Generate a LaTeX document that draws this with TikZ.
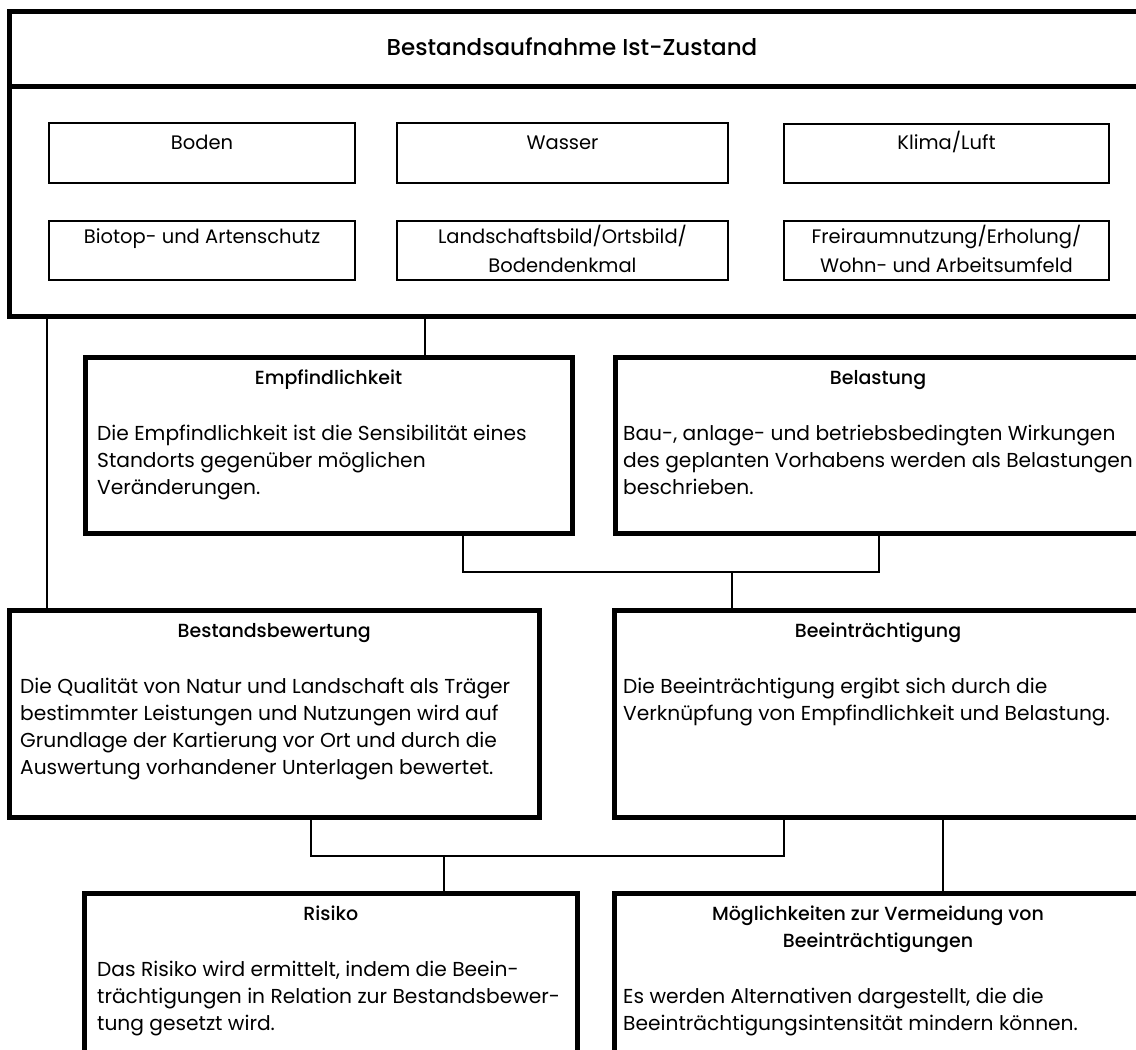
\documentclass[tikz,border=0pt]{standalone}
\usepackage{fontspec}
\setmainfont{Poppins}
\newfontfamily\headfont{Poppins Medium}
\newcommand{\bodytext}[1]{\parbox[t]{520pt}{\raggedright #1}}
\newcommand{\ctext}[1]{\parbox[t]{400pt}{\centering #1}}
\begin{document}
\begin{tikzpicture}[x=1pt,y=-1pt,
  every node/.style={font=\fontsize{20.2}{27}\selectfont},
  bigbox/.style={draw, line width=5pt, inner sep=0pt},
  smallbox/.style={draw, line width=1.8pt, inner sep=0pt},
  conn/.style={line width=2pt},
  bigline/.style={line width=5pt},
  lbl/.style={anchor=base, inner sep=0pt, font=\fontsize{19.5}{29}\selectfont},
  head/.style={anchor=base, inner sep=0pt, font=\fontsize{19}{27}\selectfont\headfont},
  body/.style={anchor=base west, inner sep=0pt}]
\useasboundingbox (0,0) rectangle (1136,1050);
\clip (0,0) rectangle (1136,1050);

% top box
\node[bigbox, minimum width=1131.5pt, minimum height=304.5pt] (top) at (575.25,163.75) {};
\coordinate (divL) at (9.5,86.5);
\draw[bigline] (divL) -- (divL -| top.east);
\node[head, font=\fontsize{23}{28}\selectfont\headfont] (title) at (572,55) {Bestandsaufnahme Ist-Zustand};

% small boxes
\node[smallbox, minimum width=306pt, minimum height=60pt] (boden) at (202,153) {};
\node[smallbox, minimum width=331pt, minimum height=60pt] (wasser) at (562.5,153) {};
\node[smallbox, minimum width=325pt, minimum height=59pt] (klima) at (946.5,153.5) {};
\node[smallbox, minimum width=306pt, minimum height=59pt] (biotop) at (202,250.5) {};
\node[smallbox, minimum width=331pt, minimum height=59pt] (land) at (562.5,250.5) {};
\node[smallbox, minimum width=325pt, minimum height=59pt] (frei) at (946.5,250.5) {};

\node[lbl] (bodenL) at (202,149) {Boden};
\node[lbl] (wasserL) at (562.5,149) {Wasser};
\node[lbl] (klimaL) at (946.5,149) {Klima/Luft};
\node[lbl] (biotopL) at (202,243) {Biotop- und Artenschutz};
\node[lbl] (landL) at (562.5,243) {\ctext{Landschaftsbild/Ortsbild/\\Bodendenkmal}};
\node[lbl] (freiL) at (946.5,243) {\ctext{Freiraumnutzung/Erholung/\\Wohn- und Arbeitsumfeld}};

% main boxes
\node[bigbox, minimum width=487pt, minimum height=176pt] (empf) at (328.5,445) {};
\node[bigbox, minimum width=526pt, minimum height=176pt] (bel) at (878,445) {};
\node[bigbox, minimum width=529.5pt, minimum height=207pt] (bew) at (274.25,713.5) {};
\node[bigbox, minimum width=526.5pt, minimum height=207pt] (beein) at (877.75,713.5) {};
\node[bigbox, minimum width=492.5pt, minimum height=177pt] (risiko) at (330.75,981.5) {};
\node[bigbox, minimum width=526.5pt, minimum height=177pt] (moegl) at (877.75,981.5) {};

% texts
\node[head] (empfH) at (328.5,384) {Empfindlichkeit};
\node[body] (empfT) at (97,440) {\bodytext{Die Empfindlichkeit ist die Sensibilität eines\\Standorts gegenüber möglichen\\Veränderungen.}};
\node[head] (belH) at (878,384) {Belastung};
\node[body] (belT) at (623,440) {\bodytext{Bau-, anlage- und betriebsbedingten Wirkungen\\des geplanten Vorhabens werden als Belastungen\\beschrieben.}};
\node[head] (bewH) at (274.25,637) {Bestandsbewertung};
\node[body] (bewT) at (20,693) {\bodytext{Die Qualität von Natur und Landschaft als Träger\\bestimmter Leistungen und Nutzungen wird auf\\Grundlage der Kartierung vor Ort und durch die\\Auswertung vorhandener Unterlagen bewertet.}};
\node[head] (beeinH) at (878,637) {Beeinträchtigung};
\node[body] (beeinT) at (623,693) {\bodytext{Die Beeinträchtigung ergibt sich durch die\\Verknüpfung von Empfindlichkeit und Belastung.}};
\node[head] (risikoH) at (330.75,920) {Risiko};
\node[body] (risikoT) at (97,976) {\bodytext{Das Risiko wird ermittelt, indem die Beein-\\trächtigungen in Relation zur Bestandsbewer-\\tung gesetzt wird.}};
\node[head] (moeglH) at (878,920) {\ctext{Möglichkeiten zur Vermeidung von\\Beeinträchtigungen}};
\node[body] (moeglT) at (623,1003) {\bodytext{Es werden Alternativen dargestellt, die die\\Beeinträchtigungsintensität mindern können.}};

% connectors
\coordinate (c1) at (425,0);
\draw[conn] (c1 |- top.south) -- (c1 |- empf.north);
\coordinate (cL) at (47,0);
\draw[conn] (cL |- top.south) -- (cL |- bew.north);
\coordinate (j1) at (462.7,572);
\coordinate (j2) at (879,572);
\coordinate (j3) at (732,572);
\draw[conn] (j1 |- empf.south) -- (j1) -- (j2) -- (j2 |- bel.south);
\draw[conn] (j3) -- (j3 |- beein.north);
\coordinate (k1) at (311,856);
\coordinate (k2) at (784,856);
\coordinate (k3) at (444,856);
\draw[conn] (k1 |- bew.south) -- (k1) -- (k2) -- (k2 |- beein.south);
\draw[conn] (k3) -- (k3 |- risiko.north);
\coordinate (m1) at (943,0);
\draw[conn] (m1 |- beein.south) -- (m1 |- moegl.north);
\end{tikzpicture}
\end{document}
